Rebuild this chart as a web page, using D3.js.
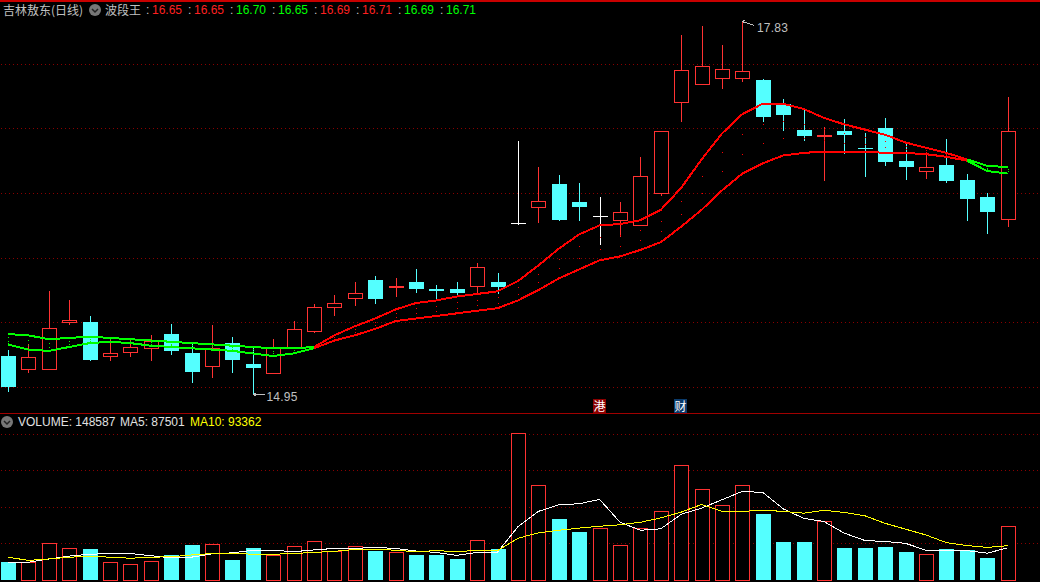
<!DOCTYPE html>
<html>
<head>
<meta charset="utf-8">
<title>吉林敖东 (日线)</title>
<script src="https://cdn.jsdelivr.net/npm/d3@7"></script>
<style>
  html, body { margin: 0; padding: 0; background: #000; overflow: hidden; }
  text { font-family: "Liberation Sans", Arial, sans-serif; font-size: 12px; }
  .cjk { font-family: "Noto Sans CJK SC", sans-serif; }
</style>
</head>
<body>
<div id="chart"></div>
<script>
  // daily prices, one entry per trading day
  var opens = [15.24, 15.14, 15.14, 15.50, 15.50, 15.24, 15.27, 15.30, 15.41, 15.26,
               15.16, 15.34, 15.18, 15.11, 15.31, 15.43, 15.62, 15.69, 15.83, 15.77,
               15.81, 15.76, 15.76, 15.78, 15.81, 16.27, 16.39, 16.57, 16.43, 16.32,
               16.29, 16.25, 16.50, 17.20, 17.34, 17.39, 17.39, 17.37, 17.19, 16.99,
               16.94, 16.98, 16.85, 17.00, 16.75, 16.67, 16.72, 16.60, 16.47, 16.30];
  var closes = [15.00, 15.23, 15.46, 15.52, 15.21, 15.26, 15.31, 15.36, 15.28, 15.12,
                15.30, 15.21, 15.15, 15.31, 15.45, 15.62, 15.65, 15.73, 15.68, 15.78,
                15.76, 15.74, 15.73, 15.93, 15.77, 16.27, 16.44, 16.29, 16.39, 16.32,
                16.35, 16.63, 16.98, 17.45, 17.48, 17.46, 17.44, 17.09, 17.10, 16.94,
                16.95, 16.95, 16.84, 16.74, 16.70, 16.70, 16.59, 16.45, 16.35, 16.98];
  var highs = [15.29, 15.33, 15.74, 15.67, 15.55, 15.38, 15.37, 15.40, 15.49, 15.35,
               15.48, 15.39, 15.30, 15.37, 15.51, 15.64, 15.71, 15.81, 15.86, 15.84,
               15.91, 15.79, 15.81, 15.96, 15.88, 16.90, 16.70, 16.64, 16.58, 16.47,
               16.43, 16.78, 16.98, 17.72, 17.79, 17.64, 17.83, 17.38, 17.23, 17.14,
               17.01, 17.07, 16.96, 17.08, 16.88, 16.81, 16.92, 16.65, 16.50, 17.24];
  var lows = [14.96, 15.11, 15.14, 15.48, 15.20, 15.20, 15.23, 15.20, 15.25, 15.03,
              15.07, 15.11, 14.95, 15.11, 15.31, 15.42, 15.55, 15.63, 15.64, 15.70,
              15.73, 15.68, 15.71, 15.73, 15.72, 16.25, 16.27, 16.28, 16.28, 16.10,
              16.16, 16.25, 16.48, 17.05, 17.34, 17.30, 17.36, 17.05, 16.98, 16.90,
              16.59, 16.80, 16.62, 16.71, 16.60, 16.61, 16.58, 16.28, 16.18, 16.24];

  // indicator band (two thick lines)
  var bandUpper = [15.41, 15.40, 15.37, 15.38, 15.39, 15.38, 15.37, 15.36, 15.35, 15.34,
                   15.33, 15.32, 15.31, 15.30, 15.30, 15.31, 15.40, 15.47, 15.53, 15.60,
                   15.65, 15.67, 15.70, 15.72, 15.74, 15.82, 15.94, 16.07, 16.18, 16.25,
                   16.26, 16.29, 16.37, 16.54, 16.76, 16.96, 17.11, 17.19, 17.19, 17.15,
                   17.08, 17.03, 16.99, 16.95, 16.89, 16.85, 16.81, 16.76, 16.71, 16.70];
  var bandLower = [15.33, 15.29, 15.28, 15.31, 15.34, 15.35, 15.34, 15.32, 15.31, 15.30,
                   15.29, 15.28, 15.26, 15.24, 15.26, 15.30, 15.36, 15.40, 15.45, 15.51,
                   15.53, 15.55, 15.57, 15.59, 15.61, 15.67, 15.75, 15.84, 15.91, 15.98,
                   16.01, 16.06, 16.12, 16.24, 16.37, 16.52, 16.65, 16.73, 16.79, 16.81,
                   16.82, 16.82, 16.82, 16.81, 16.81, 16.80, 16.78, 16.75, 16.67, 16.65];
  var greenSpans = [[0, 15], [47, 49]];
  var redSpans = [[15, 47]];

  // volume panel
  var volumes = [49000, 49000, 100000, 86000, 84500, 48000, 42400, 50700, 68000, 95600,
                 97500, 54000, 87000, 67000, 92000, 106000, 78000, 92000, 79000, 75500,
                 68000, 68000, 57000, 108500, 84500, 403000, 260000, 167000, 131000, 142000,
                 94500, 141500, 188000, 315000, 249000, 205000, 260000, 181000, 104000, 104000,
                 161000, 87000, 87000, 90000, 76000, 70000, 85000, 82000, 60000, 148587];
  var ma5 = [48000, 48000, 57000, 65000, 70000, 72000, 72000, 66000, 60000, 62000,
             71000, 74000, 81000, 81000, 77000, 82000, 86000, 86000, 89000, 86000,
             79000, 75000, 67000, 75000, 76000, 146000, 188000, 206000, 209000, 221000,
             158000, 136000, 140000, 180000, 197000, 220000, 243000, 240000, 195000, 169000,
             160000, 128000, 108000, 105000, 100000, 81000, 81000, 80000, 73000, 87501];
  var ma10 = [62000, 53000, 57000, 62000, 64000, 62000, 59000, 62000, 63000, 68000,
              72000, 73000, 70000, 70000, 72000, 75000, 78000, 83000, 84000, 81000,
              77000, 80000, 77000, 81000, 80000, 114000, 129000, 136000, 142000, 147000,
              151000, 158000, 170000, 186000, 207000, 188000, 188000, 191000, 188000, 183000,
              191000, 185000, 176000, 155000, 139000, 123000, 102000, 94000, 89000, 93362];

  // labels
  var stockName = "吉林敖东(日线)";
  var indicatorName = "波段王";
  var bandReadout = ["16.65", "16.65", "16.70", "16.65", "16.69", "16.71", "16.69", "16.71"];
  var gridPrices = [15, 15.5, 16, 16.5, 17, 17.5];
  var gridVolumes = [100000, 200000, 300000, 400000];
  var priceMax = { day: 36, value: 17.83 };
  var priceMin = { day: 12, value: 14.95 };

  var width = 1040, height = 582;
  var CYAN = "#54ffff", RED = "#ff3232", GRID = "#8a0000";

  var svg = d3.select("#chart")
      .append("svg")
      .attr("width", width)
      .attr("height", height)
      .style("display", "block")
      .style("background", "#000");

  // scales
  var x = d3.scaleLinear().domain([0, 49]).range([8, 1007.6]);
  var y = d3.scaleLinear().domain([15, 17.5]).range([387.1, 63.6]);
  var yVol = d3.scaleLinear().domain([0, 400000]).range([579.7, 434.3]);

  function px(i) { return Math.round(x(i)); }

  // panel borders
  svg.append("rect").attr("x", 0).attr("y", 0).attr("width", width).attr("height", 2).attr("fill", "#c80000");
  svg.append("rect").attr("x", 0).attr("y", 413).attr("width", width).attr("height", 1).attr("fill", "#a00000");

  // dotted grid lines
  function addGrid(values, scale, snap) {
    svg.append("g")
        .selectAll("line")
        .data(values)
        .enter()
        .append("line")
        .attr("x1", 1)
        .attr("x2", width)
        .attr("y1", function (d) { return snap(scale(d)) + 0.5; })
        .attr("y2", function (d) { return snap(scale(d)) + 0.5; })
        .attr("stroke", GRID)
        .attr("stroke-dasharray", "1,3");
  }
  addGrid(gridPrices, y, Math.round);
  addGrid(gridVolumes, yVol, Math.floor);

  function candleColor(i) {
    if (closes[i] > opens[i]) return RED;
    if (closes[i] < opens[i]) return CYAN;
    return "#ffffff";
  }

  // candles
  var days = d3.range(opens.length);
  var candles = svg.append("g").attr("shape-rendering", "crispEdges");

  candles.selectAll("line")
      .data(days)
      .enter()
      .append("line")
      .attr("x1", function (i) { return px(i) + 0.5; })
      .attr("x2", function (i) { return px(i) + 0.5; })
      .attr("y1", function (i) { return y(highs[i]); })
      .attr("y2", function (i) { return y(lows[i]); })
      .attr("stroke", candleColor);

  candles.selectAll("rect")
      .data(days)
      .enter()
      .append("rect")
      .each(function (i) {
        var top = Math.round(y(Math.max(opens[i], closes[i])));
        var bot = Math.round(y(Math.min(opens[i], closes[i])));
        var sel = d3.select(this);
        if (closes[i] > opens[i]) {
          // rising day: hollow body that hides the grid behind it
          sel.attr("x", px(i) - 7 + 0.5)
             .attr("y", top + 0.5)
             .attr("width", 14)
             .attr("height", Math.max(bot - top, 1))
             .attr("fill", "#000")
             .attr("stroke", RED);
        } else {
          sel.attr("x", px(i) - 7)
             .attr("y", top)
             .attr("width", 15)
             .attr("height", Math.max(bot - top, 1))
             .attr("fill", candleColor(i));
        }
      });

  // small dots between the two band lines
  var fractions = [1 / 3, 2 / 3];
  function dotColor(i) {
    return (i < 15 || i > 47) ? "#00ff00" : "#ff0000";
  }
  fractions.forEach(function (f) {
    svg.append("g")
        .selectAll("rect")
        .data(days)
        .enter()
        .append("rect")
        .attr("x", function (i) { return px(i); })
        .attr("y", function (i) { return Math.round(y(bandUpper[i] + (bandLower[i] - bandUpper[i]) * f)); })
        .attr("width", 1)
        .attr("height", 1)
        .attr("fill", dotColor);
  });

  // band lines, drawn span by span so they change colour
  function addBand(spans, color) {
    [bandUpper, bandLower].forEach(function (series) {
      spans.forEach(function (span) {
        var line = d3.line()
            .x(function (i) { return x(i); })
            .y(function (i) { return y(series[i]); });
        svg.append("path")
            .attr("d", line(d3.range(span[0], span[1] + 1)))
            .attr("fill", "none")
            .attr("stroke", color)
            .attr("stroke-width", 2)
            .attr("shape-rendering", "crispEdges");
      });
    });
  }
  addBand(greenSpans, "#00ff00");
  addBand(redSpans, "#ff0000");

  // high and low markers
  function addMarker(point, tail, textDx, textDy) {
    var mx = px(point.day) + 0.5, my = Math.round(y(point.value)) + 0.5;
    svg.append("path")
        .attr("d", "M" + mx + "," + my + "l" + tail[0] + "," + tail[1] + "M" + mx + "," + my + "l3,-2M" + mx + "," + my + "l3,2")
        .attr("fill", "none")
        .attr("stroke", "#c0c0c0")
        .attr("shape-rendering", "crispEdges");
    svg.append("text")
        .attr("x", mx + textDx)
        .attr("y", my + textDy)
        .attr("fill", "#c0c0c0")
        .style("letter-spacing", "0.2px")
        .text(point.value.toFixed(2));
  }
  addMarker(priceMax, [12, 4], 14.5, 10);
  addMarker(priceMin, [11, 0], 13, 6);

  // header row
  function addIcon(cx, cy) {
    svg.append("circle").attr("cx", cx).attr("cy", cy).attr("r", 6).attr("fill", "#777");
    svg.append("path")
        .attr("d", "M" + (cx - 3) + "," + (cy - 1) + "l3,3l3,-3")
        .attr("fill", "none")
        .attr("stroke", "#222")
        .attr("stroke-width", 1.5);
  }

  svg.append("text").attr("class", "cjk").attr("x", 3).attr("y", 15)
      .style("font-size", "12px").attr("fill", "#c0c0c0").text(stockName);
  addIcon(95, 10);
  svg.append("text").attr("class", "cjk").attr("x", 105).attr("y", 15)
      .style("font-size", "12px").attr("fill", "#c0c0c0").text(indicatorName);

  bandReadout.forEach(function (v, i) {
    var isRed = Math.floor(i / 2) % 2 === 0;
    svg.append("text").attr("x", 146 + i * 42).attr("y", 14)
        .attr("fill", "#c0c0c0").text(":");
    svg.append("text").attr("x", 152 + i * 42).attr("y", 14)
        .attr("fill", isRed ? "#ff2020" : "#00ff00").text(v);
  });

  // news flags above the volume panel
  function addFlag(fx, fill, label) {
    svg.append("rect").attr("x", fx).attr("y", 399).attr("width", 13).attr("height", 14).attr("fill", fill);
    svg.append("text").attr("class", "cjk").attr("x", fx + 0.5).attr("y", 411)
        .style("font-size", "12px").attr("fill", "#fff").text(label);
  }
  addFlag(593, "#8b0000", "港");
  addFlag(674, "#0a3a6a", "财");

  // volume bars
  var volBars = svg.append("g").attr("shape-rendering", "crispEdges");
  volBars.selectAll("rect")
      .data(days)
      .enter()
      .append("rect")
      .each(function (i) {
        var top = Math.round(yVol(volumes[i]));
        var sel = d3.select(this);
        if (closes[i] >= opens[i]) {
          sel.attr("x", px(i) - 7 + 0.5)
             .attr("y", top + 0.5)
             .attr("width", 14)
             .attr("height", 580 - top)
             .attr("fill", "#000")
             .attr("stroke", RED);
        } else {
          sel.attr("x", px(i) - 7)
             .attr("y", top)
             .attr("width", 15)
             .attr("height", 580 - top)
             .attr("fill", CYAN);
        }
      });

  // moving averages of volume
  var lineVol = d3.line()
      .x(function (d, i) { return x(i); })
      .y(function (d) { return yVol(d); });
  svg.append("path").attr("d", lineVol(ma5)).attr("fill", "none").attr("stroke", "#ffffff")
      .attr("shape-rendering", "crispEdges");
  svg.append("path").attr("d", lineVol(ma10)).attr("fill", "none").attr("stroke", "#ffff00")
      .attr("shape-rendering", "crispEdges");

  // volume readout
  addIcon(7, 422);
  svg.append("text").attr("x", 18).attr("y", 426).attr("fill", "#e0e0e0")
      .text("VOLUME: " + volumes[volumes.length - 1]);
  svg.append("text").attr("x", 120).attr("y", 426).attr("fill", "#e0e0e0")
      .text("MA5: " + ma5[ma5.length - 1]);
  svg.append("text").attr("x", 190).attr("y", 426).attr("fill", "#ffff00")
      .text("MA10: " + ma10[ma10.length - 1]);
</script>
</body>
</html>
